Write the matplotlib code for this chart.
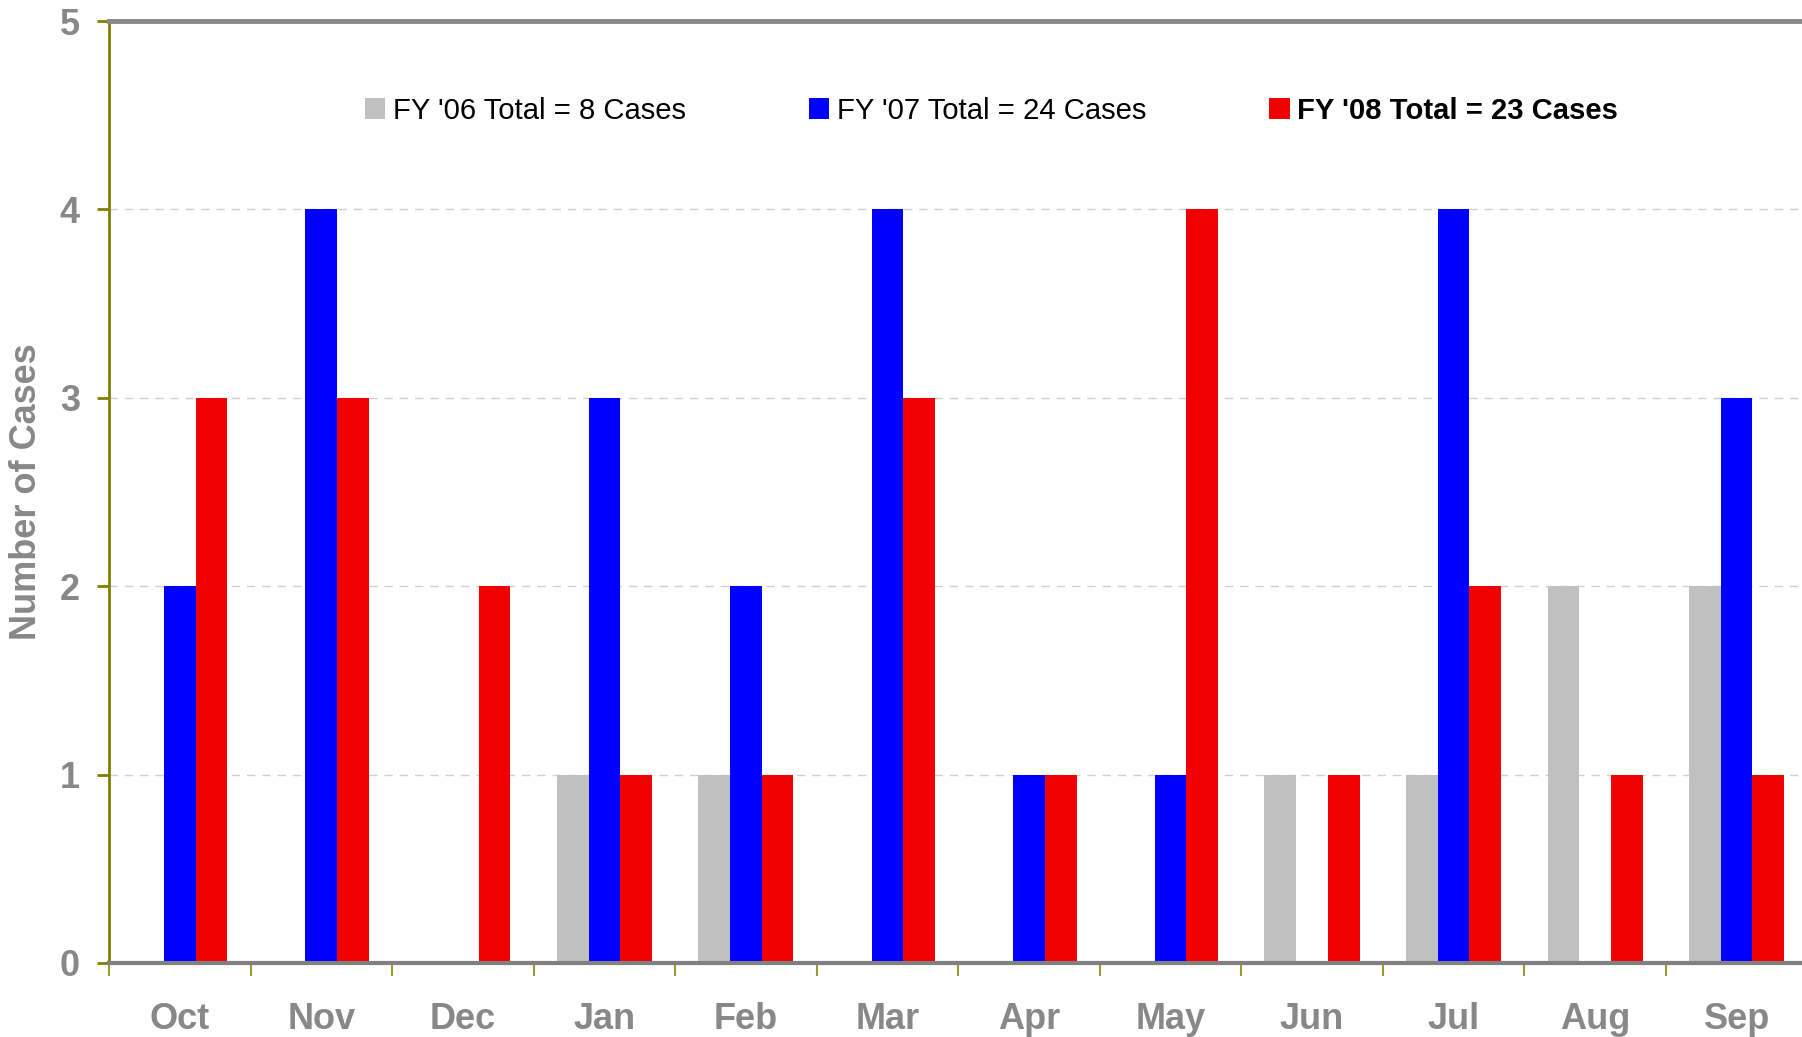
import matplotlib.pyplot as plt
import numpy as np
from matplotlib.patches import Patch

plt.rcParams['font.family'] = ['Liberation Sans', 'DejaVu Sans']

months = ['Oct', 'Nov', 'Dec', 'Jan', 'Feb', 'Mar', 'Apr', 'May', 'Jun', 'Jul', 'Aug', 'Sep']
fy06 = [0, 0, 0, 1, 1, 0, 0, 0, 1, 1, 2, 2]
fy07 = [2, 4, 0, 3, 2, 4, 1, 1, 0, 4, 0, 3]
fy08 = [3, 3, 2, 1, 1, 3, 1, 4, 1, 2, 1, 1]
labels = ["FY '06 Total = 8 Cases", "FY '07 Total = 24 Cases", "FY '08 Total = 23 Cases"]
colours = ['#C0C0C0', '#0000FF', '#F00000']

fig = plt.figure(figsize=(18.02, 10.37), dpi=100)
ax = fig.add_axes([0.0605, 0.0714, 0.9425, 0.9083])

x = np.arange(len(months))
w = 0.224
for off, vals, c in zip([-w, 0, w], [fy06, fy07, fy08], colours):
    ax.bar(x + off, vals, width=w, color=c, zorder=3)

ax.set_xlim(-0.5, len(months) - 0.5)
ax.set_ylim(0, 5)

# GRID
for yv in [1, 2, 3, 4]:
    ax.axhline(yv, color='#D0D0D0', lw=1, ls=(0, (6, 5)), zorder=1)

# SPINES
ax.spines['left'].set_color('#808000')
ax.spines['left'].set_linewidth(2)
ax.spines['bottom'].set_color('#808080')
ax.spines['bottom'].set_linewidth(3)
ax.spines['bottom'].set_zorder(4)
ax.spines['top'].set_color('#888888')
ax.spines['top'].set_linewidth(3.5)
ax.spines['right'].set_visible(False)

# TICKS
ax.set_yticks([0, 1, 2, 3, 4, 5])
ax.tick_params(axis='y', colors='#808000', length=9, width=2, pad=12,
               labelsize=26, labelcolor='#888888')
for t in ax.get_yticklabels():
    t.set_fontweight('bold')

ax.set_xticks(np.arange(-0.5, len(months), 1.0))
ax.set_xticklabels([])
ax.tick_params(axis='x', which='major', colors='#9A9A30', length=9, width=1.5)
ax.set_xticks(x, minor=True)
ax.set_xticklabels(months, minor=True)
ax.tick_params(axis='x', which='minor', length=0, pad=28, labelsize=26,
               labelcolor='#888888')
for t in ax.get_xticklabels(minor=True):
    t.set_fontweight('bold')

ax.set_ylabel('Number of Cases', fontsize=26, fontweight='bold', color='#888888')
ax.yaxis.set_label_coords(-0.0385, 0.5)

# LEGEND
handles = [Patch(facecolor=c, edgecolor='none') for c in colours]
leg = ax.legend(handles, labels, ncol=3, frameon=False, fontsize=21.1,
                loc='center left', bbox_to_anchor=(0.1507, 0.905),
                handlelength=0.7, handleheight=0.7, handletextpad=0.25,
                columnspacing=4.2, borderaxespad=0, borderpad=0)
leg.get_texts()[2].set_fontweight('bold')

fig.savefig('out.png', dpi=100)
